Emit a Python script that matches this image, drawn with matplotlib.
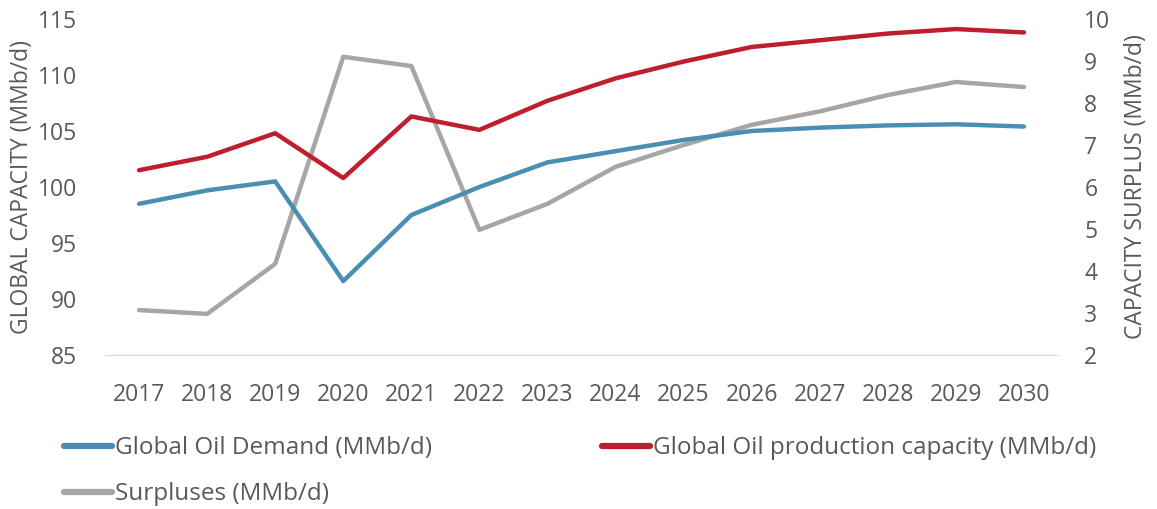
import matplotlib.pyplot as plt

years = [2017, 2018, 2019, 2020, 2021, 2022, 2023, 2024, 2025, 2026, 2027, 2028, 2029, 2030]
demand = [98.5, 99.7, 100.5, 91.6, 97.5, 100.0, 102.2, 103.2, 104.2, 105.0, 105.3, 105.5, 105.6, 105.4]
capacity = [101.5, 102.7, 104.8, 100.8, 106.3, 105.1, 107.7, 109.7, 111.2, 112.5, 113.1, 113.7, 114.1, 113.8]
surplus = [3.07, 2.98, 4.17, 9.1, 8.88, 4.98, 5.6, 6.48, 7.0, 7.48, 7.8, 8.19, 8.5, 8.38]

plt.rcParams['font.family'] = ['Open Sans', 'DejaVu Sans']
txt = '#595959'

fig = plt.figure(figsize=(11.57, 5.09), dpi=100)
ax = fig.add_axes([0.0908, 0.3025, 0.8236, 0.6602])
ax2 = ax.twinx()

l1, = ax.plot(years, demand, color='#4A8FB3', lw=3.2, solid_capstyle='round', label='Global Oil Demand (MMb/d)')
l2, = ax.plot(years, capacity, color='#BE1E2D', lw=3.2, solid_capstyle='round', label='Global Oil production capacity (MMb/d)')
l3, = ax2.plot(years, surplus, color='#A6A6A6', lw=3.2, solid_capstyle='round', label='Surpluses (MMb/d)')
ax.set_zorder(ax2.get_zorder() + 1)
ax.patch.set_visible(False)

ax.set_xlim(2016.5, 2030.5)
ax.set_ylim(85, 115)
ax2.set_ylim(2, 10)
ax.set_xticks(years)
ax.set_yticks(range(85, 116, 5))
ax2.set_yticks(range(2, 11))

for a in (ax, ax2):
    for s in a.spines.values():
        s.set_visible(False)
    a.tick_params(length=0, labelsize=16.5, labelcolor=txt)
ax.spines['bottom'].set_visible(True)
ax.spines['bottom'].set_color('#D9D9D9')
ax.tick_params(axis='x', pad=20)
ax.tick_params(axis='y', pad=20)
ax2.tick_params(axis='y', pad=19)

ax.set_ylabel('GLOBAL CAPACITY (MMb/d)', fontsize=16.5, color=txt, labelpad=3)
ax2.set_ylabel('CAPACITY SURPLUS (MMb/d)', fontsize=16.5, color=txt, rotation=90, labelpad=10)

fig.legend(handles=[l1, l3, l2], loc='center left', bbox_to_anchor=(0.036, 0.074), ncol=2,
           frameon=False, fontsize=17.5, labelcolor=txt, handlelength=2.0, handletextpad=0.1,
           columnspacing=7.0, labelspacing=0.9)
for h in fig.legends[0].legend_handles:
    h.set_linewidth(4.5)

fig.savefig('out.png', dpi=100)
